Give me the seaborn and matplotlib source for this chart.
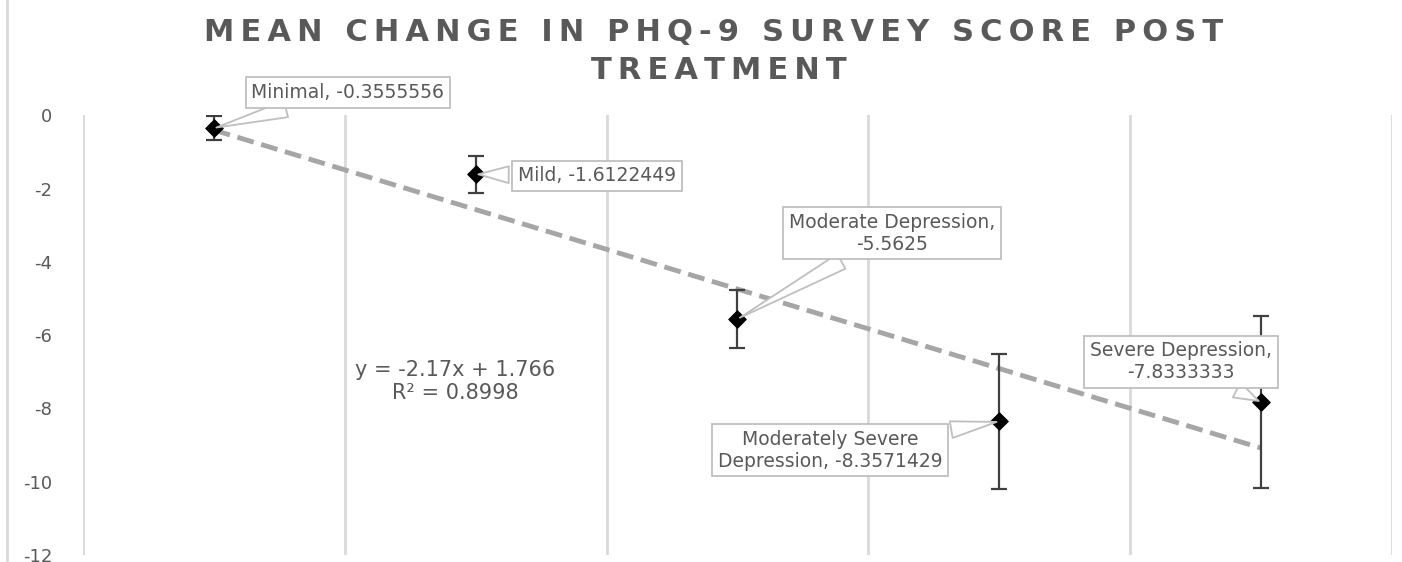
import numpy as np
import pandas as pd
import matplotlib.pyplot as plt
import seaborn as sns

# Daten
categories = ["Minimal", "Mild", "Moderate Depression",
              "Moderately Severe Depression", "Severe Depression"]
x_pos = [1, 2, 3, 4, 5]
mean_change = [-0.3555556, -1.6122449, -5.5625, -8.3571429, -7.8333333]
err = [0.33, 0.5, 0.8, 1.84, 2.35]
label_texts = ["Minimal, -0.3555556", "Mild, -1.6122449",
               "Moderate Depression,\n-5.5625",
               "Moderately Severe\nDepression, -8.3571429",
               "Severe Depression,\n-7.8333333"]
label_xy = [(1.512, 0.62), (2.463, -1.65), (3.59, -3.22), (3.353, -9.14), (4.694, -6.73)]

df = pd.DataFrame({"x": x_pos, "y": mean_change, "err": err, "cat": categories})

sns.set_theme(style="white")
plt.rcParams['font.family'] = ['DejaVu Sans']
plt.rcParams['axes.unicode_minus'] = False

txt = "#595959"
grid = "#d9d9d9"

fig = plt.figure(figsize=(14.02, 5.62), dpi=100)
ax = fig.add_axes([0.059, 0.0125, 0.934, 0.7825])

# Trendlinie (lineare Regression)
sns.regplot(data=df, x="x", y="y", ax=ax, scatter=False, ci=None,
            line_kws=dict(color="#a6a6a6", lw=3.5, linestyle=(0, (3.5, 1.6)), zorder=2))

ax.errorbar(df["x"], df["y"], yerr=df["err"], fmt="none", ecolor="#404040",
            elinewidth=1.6, capsize=6, capthick=1.6, zorder=3)
sns.scatterplot(data=df, x="x", y="y", ax=ax, marker="D", s=80, color="black",
                edgecolor="black", zorder=4, legend=False)

ax.set_xlim(0.5, 5.5)
ax.set_ylim(-12, 0)
ax.set_xticks(np.arange(0.5, 5.6, 1.0))
ax.set_xticklabels([])
ax.set_yticks(np.arange(-12, 1, 2))
ax.tick_params(axis="y", labelsize=13, labelcolor=txt, length=0, pad=22)
ax.tick_params(axis="x", length=0)
ax.xaxis.grid(True, color=grid, lw=2)
ax.yaxis.grid(False)
ax.set_xlabel("")
ax.set_ylabel("")
for s in ax.spines.values():
    s.set_visible(False)

for (lx, ly), t, px, py in zip(label_xy, label_texts, x_pos, mean_change):
    ax.annotate(t, xy=(px, py), xytext=(lx, ly), ha="center", va="center",
                fontsize=13.5, color=txt, annotation_clip=False, linespacing=1.2,
                bbox=dict(boxstyle="square,pad=0.3", fc="white", ec="#bfbfbf", lw=1.3),
                arrowprops=dict(arrowstyle="wedge,tail_width=0.9,shrink_factor=0.5",
                                fc="white", ec="#bfbfbf", lw=1.3, shrinkB=2),
                zorder=5)

ax.text(1.921, -7.27, "y = -2.17x + 1.766\nR² = 0.8998", ha="center", va="center",
        fontsize=15, color=txt, linespacing=1.15)

# Titel mit Sperrschrift wie im Original
sp = "\u2009"
fig.text(0.509, 0.943, sp.join("MEAN CHANGE IN PHQ-9 SURVEY SCORE POST"), ha="center",
         va="center", fontsize=22, fontweight="bold", color=txt)
fig.text(0.513, 0.875, sp.join("TREATMENT"), ha="center", va="center",
         fontsize=22, fontweight="bold", color=txt)

fig.add_artist(plt.Line2D([0.005, 0.005], [0, 1], color=grid, lw=2))

fig.savefig("out.png", dpi=100)
